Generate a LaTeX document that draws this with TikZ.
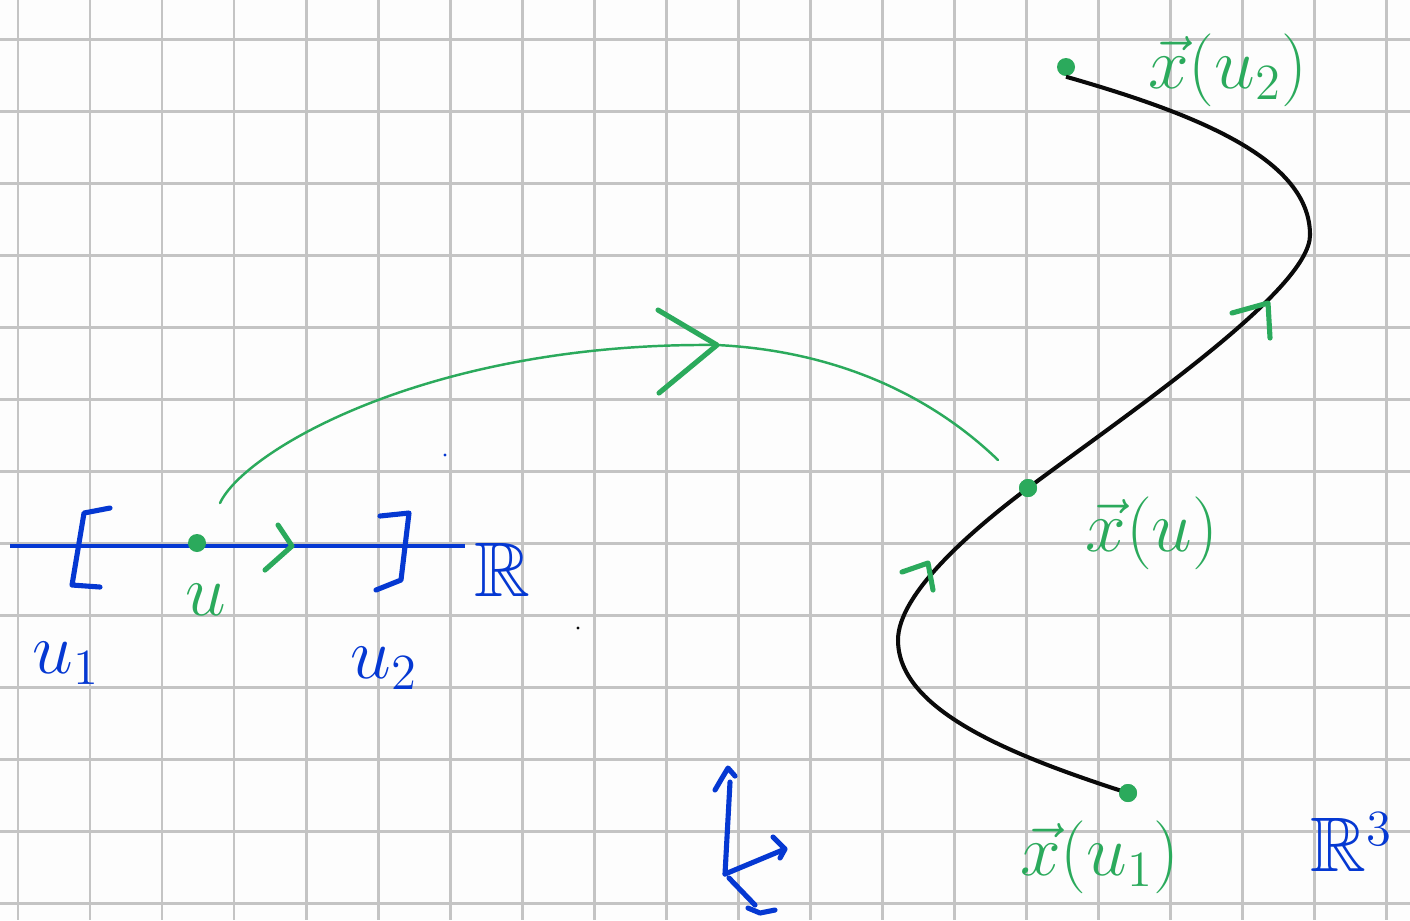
\documentclass[tikz,border=0pt]{standalone}
\usepackage{amsmath,amssymb}
\usepackage{tikz}
\usetikzlibrary{positioning,calc}
\definecolor{paper}{HTML}{FDFDFD}
\definecolor{gridF}{HTML}{C4C4C4}
\definecolor{pen}{HTML}{0538D2}
\definecolor{leaf}{HTML}{2BAA5C}
\definecolor{ink}{HTML}{0A0A0A}
\tikzset{
  gridline/.style={draw=gridF, line width=0.85pt},
  realline/.style={draw=pen, line width=1.2pt},
  stroke/.style={line width=1.45pt, line cap=round, line join=round},
  curve/.style={draw=ink, line width=1.15pt},
  mapcurve/.style={draw=leaf, line width=0.7pt, line cap=round},
  chev/.style={stroke, draw=leaf},
  dot/.style={circle, fill=leaf, minimum size=0.18cm, inner sep=0pt},
  lbl/.style={font=\fontsize{22}{26}\selectfont, inner sep=0pt},
}

\begin{document}
\begin{tikzpicture}[x=0.01cm, y=-0.01cm]
  % ------------------------------------------------ squared paper
  \fill[paper] (0,0) rectangle (1410,920);
  \useasboundingbox (0,0) rectangle (1410,920);
  \foreach \i in {0,...,19}
    \draw[gridline] (18+72*\i,0) -- (18+72*\i,920);
  \foreach \j in {0,...,12}
    \draw[gridline] (0,39+72*\j) -- (1410,39+72*\j);

  % ------------------------------------------------ the parameter line
  \coordinate (lineL) at (10,546);
  \coordinate (lineR) at (465,546);
  \draw[realline] (lineL) -- (lineR);
  \draw[stroke, draw=pen] (110,508) -- (84,513) -- (72,585) -- (100,587);
  \draw[stroke, draw=pen] (380,516) -- (409,513) -- (401,580) -- (376,590);
  \draw[chev] (265,570) -- (292,546) -- (278,525);
  \node[dot] (u) at (197,543) {};

  \node[lbl, text=leaf] (lu) at (206,600) {$u$};
  \node[lbl, text=pen] (lu1) at (66,663) {$u_1$};
  \node[lbl, text=pen] (lu2) at (384,668) {$u_2$};
  \node[lbl, text=pen] (lR) at (502,570) {$\mathbb{R}$};

  % ------------------------------------------------ the curve in space
  \node[dot] (x1) at (1128,793) {};
  \node[dot] (xu) at (1028,488) {};
  \node[dot] (x2) at (1066,67) {};
  \draw[curve] (x1.center) .. controls (1010,755) and (898,710) .. (898,640)
    .. controls (898,595) and (968,533) .. (xu.center)
    .. controls (1130,412) and (1310,290) .. (1310,235)
    .. controls (1310,160) and (1200,115) .. (x2.south);
  \node[dot] at (x1) {};
  \node[dot] at (xu) {};
  \draw[chev] (902,572) -- (928,563) -- (933,590);
  \draw[chev] (1232,313) -- (1268,303) -- (1270,338);

  \node[lbl, text=leaf] (lx2) at (1228,70) {$\vec{x}(u_2)$};
  \node[lbl, text=leaf] (lxu) at (1152,533) {$\vec{x}(u)$};
  \node[lbl, text=leaf] (lx1) at (1100,857) {$\vec{x}(u_1)$};
  \node[lbl, text=pen] (lR3) at (1352,842) {$\mathbb{R}^3$};

  % ------------------------------------------------ the map u -> x(u)
  \coordinate (mapS) at (220,503);
  \coordinate (mapE) at (998,460);
  \draw[mapcurve] (mapS) .. controls (245,450) and (430,342) .. (717,345)
    .. controls (820,350) and (920,385) .. (mapE);
  \draw[chev] (658,310) -- (717,345) -- (659,393);

  % ------------------------------------------------ axes sketch
  \coordinate (o) at (725,874);
  \draw[stroke, draw=pen] (o) -- (730,782);
  \draw[stroke, draw=pen] (715,790) -- (722,778) -- (728,768) -- (735,776);
  \draw[stroke, draw=pen] (o) -- (785,849);
  \draw[stroke, draw=pen] (773,837) -- (785,849) -- (780,858);
  \draw[stroke, draw=pen] (729,878) -- (755,905);
  \draw[stroke, draw=pen] (748,908) -- (760,913) -- (775,910);

  % ------------------------------------------------ specks
  \fill[pen] (445,455) circle (1.6);
  \fill[ink] (578,628) circle (1.6);
\end{tikzpicture}
\end{document}
